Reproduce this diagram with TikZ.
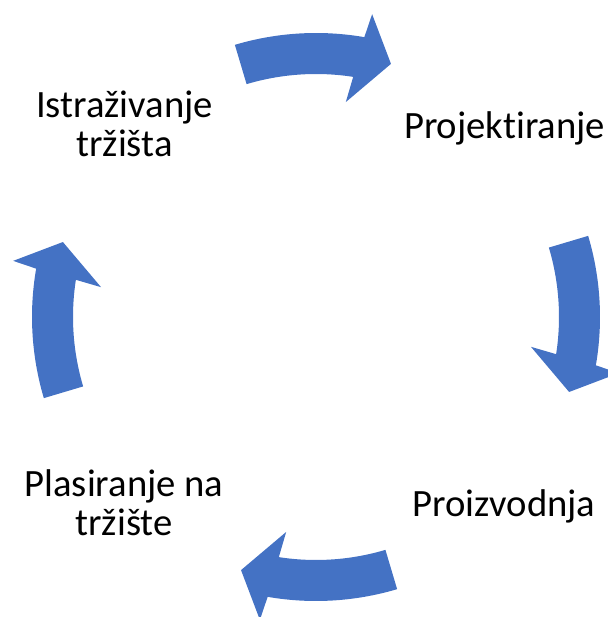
\documentclass[tikz,border=0pt]{standalone}
\usepackage{fontspec}
\setmainfont{Carlito}[Ligatures=NoCommon]
\definecolor{cycleblue}{HTML}{4472C4}
\begin{document}
\begin{tikzpicture}[x=0.75pt,y=0.75pt,
  cyclearrow/.style={fill=cycleblue},
  stagelabel/.style={font=\fontsize{29}{29.6}\selectfont,align=center,anchor=base,inner sep=0pt}]
\useasboundingbox (0,0) rectangle (607,617);
\coordinate (centre) at (316,300);

\begin{scope}[shift={(centre)}]
\fill[cyclearrow] (106.6:284) arc[start angle=106.6,end angle=80.2,radius=284] -- (79.5:308) -- (73.5:264)
  -- (82.1:217) -- (81.2:243) arc[start angle=81.2,end angle=106.6,radius=243] -- cycle;
\fill[cyclearrow] (16.6:284) arc[start angle=16.6,end angle=-9.8,radius=284] -- (-10.5:308) -- (-16.5:264)
  -- (-7.9:217) -- (-8.8:243) arc[start angle=-8.8,end angle=16.6,radius=243] -- cycle;
\fill[cyclearrow] (-73.4:284) arc[start angle=-73.4,end angle=-99.8,radius=284] -- (-100.5:308) -- (-106.5:264)
  -- (-97.9:217) -- (-98.8:243) arc[start angle=-98.8,end angle=-73.4,radius=243] -- cycle;
\fill[cyclearrow] (-163.4:284) arc[start angle=-163.4,end angle=-189.8,radius=284] -- (-190.5:308) -- (-196.5:264)
  -- (-187.9:217) -- (-188.8:243) arc[start angle=-188.8,end angle=-163.4,radius=243] -- cycle;
\end{scope}

% two-line labels sit on the baseline of their last line
\node[stagelabel] (research) at (124.5,460) {Istraživanje\\tržišta};
\node[stagelabel] (design) at (504.5,478) {Projektiranje};
\node[stagelabel] (production) at (504,100) {Proizvodnja};
\node[stagelabel] (marketing) at (124,81) {Plasiranje na\\tržište};

\end{tikzpicture}
\end{document}
